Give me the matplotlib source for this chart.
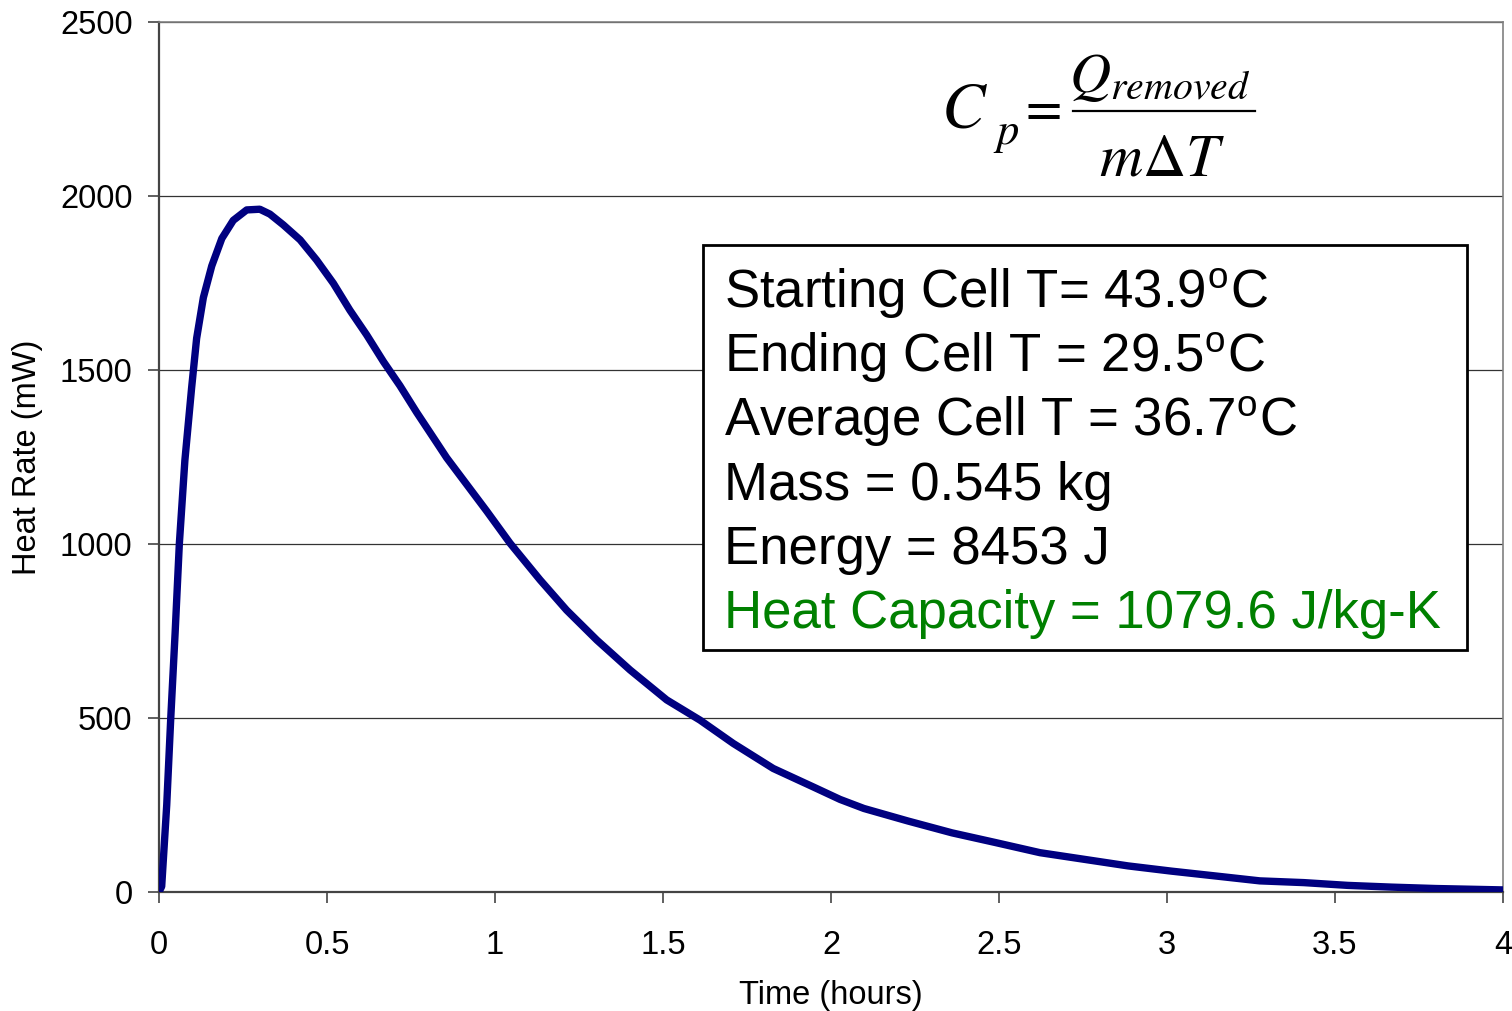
import numpy as np
import matplotlib
matplotlib.use('Agg')
import matplotlib.pyplot as plt
from matplotlib.patches import Rectangle
from matplotlib.lines import Line2D

# heat rate curve
time_h = [0, 0.008, 0.023, 0.035, 0.048, 0.0605, 0.077, 0.097, 0.112, 0.132, 0.157,
          0.187, 0.221, 0.261, 0.30, 0.33, 0.37, 0.42, 0.469, 0.519, 0.568, 0.618,
          0.668, 0.717, 0.767, 0.826, 0.856, 0.975, 1.045, 1.134, 1.213, 1.303,
          1.402, 1.511, 1.61, 1.709, 1.828, 1.947, 2.027, 2.098, 2.229, 2.36, 2.49,
          2.622, 2.753, 2.884, 3.013, 3.145, 3.276, 3.407, 3.538, 3.669, 3.8, 4.0]
heat_mw = [0, 16, 250, 500, 745, 1000, 1240, 1448, 1591, 1708, 1799,
           1878, 1930, 1960, 1962, 1948, 1917, 1874, 1816, 1749, 1672, 1601,
           1524, 1455, 1378, 1292, 1248, 1095, 1002, 897, 810, 724,
           638, 552, 494, 427, 355, 302, 266, 240, 204, 170, 142,
           113, 94, 75, 60, 46, 32, 27, 19, 14, 10, 6]

x_ticks = [0, 0.5, 1, 1.5, 2, 2.5, 3, 3.5, 4]
x_labels = ['0', '0.5', '1', '1.5', '2', '2.5', '3', '3.5', '4']
y_ticks = [0, 500, 1000, 1500, 2000, 2500]

info_lines = ['Starting Cell T= 43.9$^\\mathregular{o}$C',
              'Ending Cell T = 29.5$^\\mathregular{o}$C',
              'Average Cell T = 36.7$^\\mathregular{o}$C',
              'Mass = 0.545 kg',
              'Energy = 8453 J',
              'Heat Capacity = 1079.6 J/kg-K']
info_colors = ['black'] * 5 + ['#008000']

plt.rcParams['font.family'] = ['Liberation Sans', 'DejaVu Sans']
plt.rcParams['mathtext.fontset'] = 'stix'

W, H = 1512, 1011
fig = plt.figure(figsize=(W / 100, H / 100), dpi=100)
ax = fig.add_axes([159 / W, 1 - 892 / H, 1344 / W, 870 / H])


def px(x, y):
    # picture pixel -> axes fraction
    return (x - 159) / 1344, 1 - (y - 22) / 870


ax.plot(time_h, heat_mw, color='#000080', lw=5.3, solid_capstyle='round',
        solid_joinstyle='round', zorder=3)

ax.set_xlim(0, 4)
ax.set_ylim(0, 2500)
ax.set_xticks(x_ticks)
ax.set_xticklabels(x_labels)
ax.set_yticks(y_ticks)
ax.yaxis.grid(True, color='#333333', lw=0.9)
ax.set_axisbelow(True)

ax.tick_params(axis='both', direction='out', length=8, width=1.2, color='#444444',
               labelsize=23.5)
ax.tick_params(axis='x', pad=19)
ax.tick_params(axis='y', pad=11)
for s in ['left', 'bottom']:
    ax.spines[s].set_color('#444444')
    ax.spines[s].set_linewidth(1.6)
for s in ['top', 'right']:
    ax.spines[s].set_color('#808080')
    ax.spines[s].set_linewidth(1.2)

ax.set_xlabel('Time (hours)', fontsize=23.5, labelpad=14)
ax.set_ylabel('Heat Rate (mW)', fontsize=23.5, labelpad=12)

# formula  Cp = Q_removed / (m dT)
ax.text(*px(941, 128), r'$C$', transform=ax.transAxes, fontsize=47, va='baseline')
ax.text(*px(993, 144), r'$p$', transform=ax.transAxes, fontsize=32, va='baseline')
ax.text(*px(1040, 110), r'$=$', transform=ax.transAxes, fontsize=38,
        ha='center', va='center')
x0, yl = px(1073, 111)
x1, _ = px(1255, 111)
ax.add_line(Line2D([x0, x1], [yl, yl], transform=ax.transAxes, color='black', lw=1.6))
ax.text(*px(1160, 92), r'$Q_{removed}$', transform=ax.transAxes, fontsize=41,
        ha='center', va='baseline')
ax.text(*px(1162, 175), r'$m\Delta T$', transform=ax.transAxes, fontsize=43,
        ha='center', va='baseline')

# info box
bx0, by0 = px(703, 650)
bx1, by1 = px(1467, 245)
ax.add_patch(Rectangle((bx0, by0), bx1 - bx0, by1 - by0, transform=ax.transAxes,
                       facecolor='white', edgecolor='black', lw=2, zorder=4))
base_py = [308, 372, 436, 500, 564, 628]
for line, col, yb in zip(info_lines, info_colors, base_py):
    ax.text(*px(724, yb), line, transform=ax.transAxes, fontsize=38, color=col,
            va='baseline', ha='left', zorder=5)

fig.savefig('out.png', dpi=100)
